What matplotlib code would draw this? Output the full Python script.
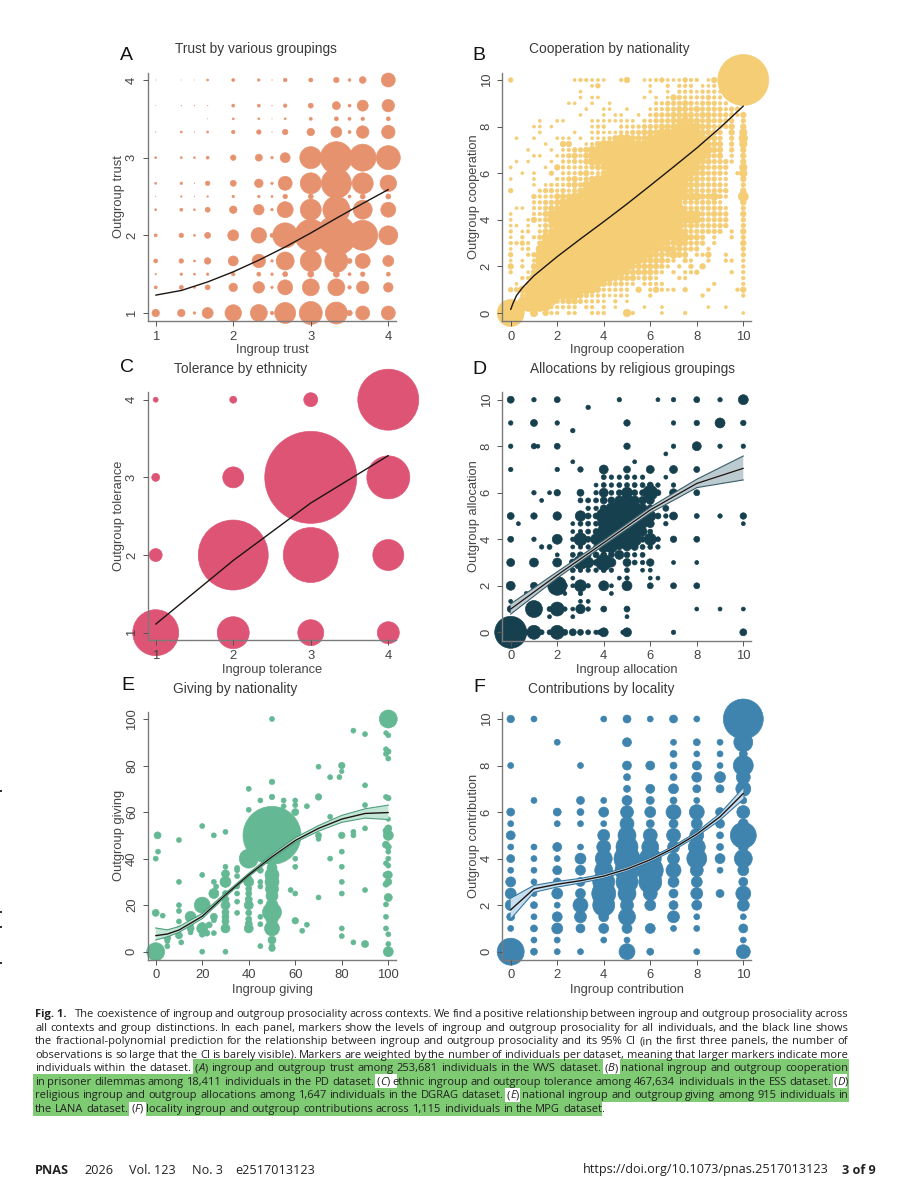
"""Six-panel ingroup/outgroup bubble figure with its caption and page footer."""

import re

import numpy as np
import matplotlib

matplotlib.use("Agg")
import matplotlib.pyplot as plt
from matplotlib.patches import Rectangle

W, H = 901, 1200

# ---------- data: marker weight is given as root-weight (marker area ~ weight**2) ----------
A_x = [1, 1.33, 1.5, 1.67, 2, 2.33, 2.5, 2.67, 3, 3.33, 3.5, 3.67, 4]
A_y = [4, 3.67, 3.5, 3.33, 3, 2.67, 2.5, 2.33, 2, 1.67, 1.5, 1.33, 1]
A_weight = [
    [0.4, 0.3, 0.3, 2, 3, 2.5, 0.5, 3.7, 4, 5.5, 2.7, 6.7, 14],
    [0.3, 0.5, 0.5, 0.5, 3, 3, 0.5, 3.5, 5, 8, 3, 11, 12.5],
    [0, 0, 0, 0.4, 2, 2, 0.4, 2, 3, 4, 3, 3.5, 4],
    [0.5, 2, 0.5, 2, 3.5, 4.5, 0.5, 5.5, 7.5, 11, 3, 12.5, 13.5],
    [2, 2, 1.8, 3, 5.5, 7, 2.5, 10, 22, 32, 5, 27, 24],
    [2, 2.5, 0.5, 4.5, 6, 8.5, 2.5, 14, 21, 30, 4, 21, 16.5],
    [0.5, 1.5, 0.5, 1.5, 2.5, 2.5, 2, 4.5, 5, 6, 3, 5, 5],
    [2, 3, 1.8, 5, 7.5, 10.5, 2.5, 16, 21, 27, 3, 19, 15],
    [3, 4.5, 2, 6, 11, 15.5, 4, 25, 32, 40, 6, 30, 19],
    [4, 4.5, 2, 6.5, 10, 13.5, 2.5, 18, 21, 23, 5, 15, 11],
    [1.5, 2.5, 2, 2.5, 3.5, 4, 2.5, 5, 6, 6, 3, 4.5, 4],
    [3, 4, 2, 5, 8.5, 11.5, 2.5, 15, 17, 17, 3.5, 12.5, 9.5],
    [7.5, 7.5, 2.5, 11, 16.5, 17, 3.5, 21, 23, 22, 5.5, 14, 14],
]
A_line_x = [1, 1.33, 1.67, 2, 2.33, 2.67, 3, 3.33, 3.67, 4]
A_line_y = [1.23, 1.29, 1.40, 1.53, 1.68, 1.85, 2.03, 2.22, 2.41, 2.59]

# rows run from outgroup 10 down to 0, columns from ingroup 0 to 10, in quarter steps
B_step = 0.25
B_levels = [0, 2.6, 3, 3.6, 4.6, 5.6, 7.5, 8.6, 10, 13]
B_rows = [
    "4..........233222..35" + "..2234222433.25244..",
    "..............24....." + "...2..3.333.223.....",
    "............2........" + "...2..2.33323332....",
    "............2.22....." + "..2.2.2543333433....",
    "..........22..2..2..." + "....3344454344433...",
    ".............2..22..2" + "...2334455454444344.",
    "............2...2.22." + ".2.34445555455444435",
    ".....2..22....2222222" + "2.3344455655454444.4",
    "....22.2......233..33" + "334445556666554445.5",
    ".....2.....2..2322233" + "4455566677665554.5.6",
    ".2..2...222.2.2223566" + "5556667777666554.4.7",
    "......2..55..23566666" + "6666777777766555.4.6",
    "...2...2.234456666666" + "6677777777777655.4.5",
    "....22..2345356666666" + "7777777777777545.3.5",
    ".2.2...2.334356667777" + "77777777777655444" + "3.5",
    "2.....2.5333334556777" + "7777777777665444" + "4..6",
    "..2.2..4.333453357777" + "777777777" + "6655444" + "3.36",
    "2...2...3345345677777" + "777777777" + "65544433" + "..5",
    "....2.233345467777777" + "777777777" + "65544443" + "..4",
    "4....3443434567777777" + "777777777" + "55444444" + "..5",
    "....43335556777777777" + "777777777" + "666" + "5564" + "3" + "..8",
    "....33445667777777777" + "77777777" + "54444443" + "...5",
    ".22.33455677777777777" + "777777777" + "4444444" + "3" + "..4",
    "2...33567777777777777" + "777777777" + "666" + "44544" + "..5",
    "2..253467777777777777" + "7777777" + "66666" + "44444" + "..4",
    "22.2.2457777777777777" + "7777777" + "6" + "6" + "45444444" + "..4",
    "3.23.3557777777777777" + "777777" + "666" + "5444444" + ".3.5",
    "2.3.34677777777777777" + "777777666655" + "4.3..3.4",
    "3343.4777777777777777" + "77777" + "6556544" + "4.3....5",
    "2.23.6777777777777777" + "777" + "56565544" + "4.3.....4",
    "4..347777777777777777" + "7776554655.335..3..4",
    "2.2.37777777777777777" + "76555543.43..3..33.3",
    "5.3.57777777777777777" + "5555543.3.4.5......3",
    "3..257777777777777765" + "555543.3.334.....3.3",
    "..3377777777777776555" + "53443...33.........3",
    ".2.477777777777654443" + "3.3333........3....3",
    "446677777777776533333" + ".5.35323.4...3....35",
    "..3677777776543332232" + "...3........3......3",
    "..7777774455433" + "32.3.2" + "....................",
    "777777733333.33.3.2.." + "..2..2.......2..2...",
    "....6.533.33..333...6" + "3....2...3.........2",
]
B_big_x = [10, 0]
B_big_y = [10, 0]
B_big_weight = [51, 27]
B_line_x = [0, 0.1, 0.25, 0.5, 1, 2, 3, 4, 5, 6, 7, 8, 9, 10]
B_line_y = [0.15, 0.42, 0.75, 1.08, 1.6, 2.42, 3.18, 3.92, 4.68, 5.47, 6.27, 7.08, 7.95, 8.88]

C_x = [1, 2, 3, 4]
C_y = [4, 3, 2, 1]
C_weight = [
    [5, 7, 14, 61],
    [8, 21, 92, 43],
    [13, 70, 55, 31],
    [46, 32, 26, 22],
]
C_line_x = [1, 2, 3, 4]
C_line_y = [1.11, 1.93, 2.67, 3.28]

# one entry per outgroup level: (outgroup, ingroup values, weights)
D_rows = [
    (10, [0, 1, 2, 4.67, 6.33, 7, 8, 9, 10], [7, 4.5, 6, 4.5, 4, 4.5, 6, 4.5, 10]),
    (9.67, [3.33], [4.5]),
    (9, [0, 1, 2, 5, 7, 8, 9, 10], [4.5, 7, 4.5, 6.5, 4.5, 5.5, 10, 5.5]),
    (8.67, [2.67], [4.5]),
    (8, [0, 1, 1.17, 2, 5, 7, 8, 9, 10], [4.5, 5.5, 4, 6, 6.5, 4.5, 9, 4.5, 4.5]),
    (7.67, [6.67], [4]),
    (7.33, [2.67, 5.33], [4, 4]),
    (7, [0, 2, 3, 4, 5, 6, 7, 8], [4.5, 4.5, 5.5, 9, 7, 8, 8, 6]),
    (6.67, [4, 4.33, 4.67, 5, 5.33, 5.67, 6.67], [5, 4.5, 4.5, 5, 4.5, 4.5, 4]),
    (6.33, [3.67, 4, 4.33, 4.67, 5, 5.33, 5.67, 6, 6.33, 7], [4, 5, 4.5, 5, 5, 5, 5, 6, 4.5, 4.5]),
    (6, [1, 1.67, 2, 3, 3.67, 4, 4.33, 4.67, 5, 5.33, 5.67, 6, 6.33, 7, 8],
     [4.5, 4, 6.5, 7, 4.5, 9, 5, 6, 11, 6, 6, 15, 6, 8, 6]),
    (5.67, [1.33, 3, 3.33, 3.67, 4, 4.33, 4.67, 5, 5.33, 5.67, 6], [4, 5, 5, 5, 7, 7, 9, 12, 9, 8, 8]),
    (5.33, [3.33, 3.67, 4, 4.33, 4.67, 5, 5.33, 5.67, 6, 6.67], [4.5, 4.5, 7, 11, 15, 18, 13, 9, 7, 6]),
    (5, [0, 1, 2, 3, 3.33, 3.67, 4, 4.33, 4.67, 5, 5.33, 5.67, 6, 6.33, 6.67, 7, 8, 9, 10],
     [7, 6.5, 8.5, 10.5, 6, 6, 15, 18, 25, 33, 22, 14, 11, 6, 4.5, 8, 5, 4.5, 6.5]),
    (4.67, [0.33, 2.67, 3, 3.33, 3.67, 4, 4.33, 4.67, 5, 5.33, 5.67, 6, 6.67, 10],
     [4, 4, 5, 5, 5, 11, 14, 14, 14, 12, 10, 8, 4.5, 4]),
    (4.33, [2.67, 3, 3.33, 3.67, 4, 4.33, 4.67, 5, 5.33, 5.67, 6], [4, 4.5, 5, 6, 13, 13, 13, 12, 11, 9, 5]),
    (4, [0, 1, 2, 2.67, 3, 3.33, 3.67, 4, 4.33, 4.67, 5, 5.33, 5.67, 6, 6.33, 7, 8],
     [6, 4.5, 10, 4.5, 13, 6, 11, 20, 18, 14, 20, 14, 6, 12, 5, 6.5, 6]),
    (3.67, [1.33, 1.67, 2.67, 3, 3.33, 3.67, 4, 4.33, 4.67, 5, 5.33, 5.67, 6, 6.33],
     [4.5, 5, 4, 4.5, 4.5, 5, 11, 12, 6, 8, 7, 5, 5, 4.5]),
    (3.33, [2, 2.67, 3, 3.33, 3.67, 4, 4.33, 4.67, 5, 5.33, 5.67], [4, 5, 6, 6, 6, 6, 6, 9, 6, 4.5, 5]),
    (3, [0, 1, 2, 2.67, 3, 3.33, 3.67, 4, 4.33, 5, 5.33, 5.67, 6, 7, 8],
     [8, 9, 9, 7, 14, 11, 6, 16, 9, 8, 5, 4.5, 7.5, 4, 4]),
    (2.67, [2.67, 3, 3.33, 3.67, 4, 4.33, 5, 5.67, 6], [5, 4.5, 4.5, 4.5, 5, 4.5, 5, 4, 4]),
    (2.33, [2.67, 4.67, 5, 6, 6.33], [4, 4, 4.5, 4, 4]),
    (2, [0, 1, 2, 2.33, 2.67, 3, 3.33, 4, 4.33, 5, 6, 7, 8], [9, 7, 19, 5, 4, 12, 4.5, 10, 4, 10, 6, 6, 6]),
    (1.67, [0.67, 2.33, 3, 4.33], [4, 4, 4.5, 4]),
    (1.33, [0, 3, 3.33], [4, 4, 4]),
    (1, [0, 1, 1.67, 2, 2.33, 2.67, 3, 3.33, 4, 5, 8, 9, 10],
     [7, 17, 5, 14, 4.5, 4, 9.5, 4.5, 6, 6, 4, 4, 4]),
    (0.67, [1.67, 2.67, 5], [4, 4, 4]),
    (0, [0, 0.67, 1, 1.33, 1.67, 2, 2.33, 2.67, 3, 3.33, 3.67, 3.83, 4, 4.83, 5, 7, 10],
     [32, 5, 14, 5, 5, 14, 6, 7, 6, 5, 4.5, 5, 9, 4.5, 9, 4.5, 7]),
]
D_line_x = [0, 2, 4, 6, 8, 10]
D_line_y = [1.0, 2.46, 3.85, 5.26, 6.4, 7.05]
D_band_lo = [0.78, 2.33, 3.74, 5.13, 6.22, 6.55]
D_band_hi = [1.22, 2.6, 3.96, 5.38, 6.58, 7.58]

E_points = [
    (100, 100, 18), (50, 100, 5), (85, 95, 5), (90, 93.5, 5), (99, 94, 4.5), (100, 93, 5), (99, 87, 5),
    (100, 86, 5.5), (99, 85, 5), (100, 83, 5), (70, 79.5, 5), (80, 80, 6.5), (80, 77.5, 4.5), (79, 75, 5),
    (75, 75, 5), (50, 73, 5.5), (90, 71.5, 5), (40, 70, 5), (50, 66.5, 5.5), (70, 66.5, 6.5), (99, 66.5, 5),
    (100, 66, 5.5), (45, 65, 5), (55, 65, 5), (60, 65, 5), (55, 62.5, 5), (60, 63, 5), (65, 62.5, 5),
    (90, 63, 5), (40, 61, 5), (60, 60, 7), (75, 58, 5), (100, 57, 4.5), (20, 54, 5), (90, 53, 5),
    (100, 53, 7), (85, 51.5, 5), (30, 51.5, 5), (0.8, 50, 7), (25, 50, 5), (50, 50, 58), (80, 50, 6.5),
    (70, 50, 6), (85, 50, 5), (100, 50, 10), (99, 52, 6), (70, 48.5, 5), (10, 48, 5), (99, 46, 7),
    (100, 45, 6), (100, 43, 5), (1, 43, 5), (80, 43, 5), (0, 40, 5), (40, 40, 19), (60, 40, 5), (75, 40, 5),
    (100, 40, 5), (99, 38, 5), (100, 37, 5), (60, 36.5, 5), (80, 36.5, 5), (30, 36.5, 5), (35, 36, 5),
    (35, 35, 5), (45, 35, 6), (50, 36, 10), (30, 33.5, 8), (20, 33, 5), (35, 32.5, 5), (100, 33, 8),
    (99, 33, 6), (40, 32, 5), (50, 33, 14), (10, 30, 5), (25, 30, 5), (30, 30, 11), (26, 28, 5), (35, 28, 5),
    (40, 30, 10), (45, 30, 5), (50, 30, 14), (100, 30, 7), (99, 29, 6), (45, 28, 5), (50, 27, 13),
    (58, 26.5, 5), (60, 25, 5), (80, 30, 5), (80, 25, 5), (90, 26.5, 5), (35, 25, 5), (25, 25, 10), (30, 25, 6),
    (40, 27, 6), (40, 25, 6), (50, 24, 12), (30, 22.5, 7), (40, 22.5, 7), (70, 23.3, 5), (100, 23.3, 8),
    (35, 21.5, 5), (45, 21.5, 5), (30, 20, 9), (40, 20, 9), (20, 20, 16), (10, 20, 5), (99, 20.3, 5),
    (50, 20, 12), (10, 17.5, 5), (0, 16.7, 7), (30, 17, 7), (35, 16.7, 5), (40, 16.7, 6), (50, 17, 19),
    (3, 15.5, 5), (15, 15, 11), (25, 15, 7), (30, 15, 7), (40, 14, 6), (45, 15, 5), (50, 14, 12), (99, 15, 5),
    (60, 13.3, 6.5), (10, 13, 5), (15, 12, 6), (25, 13.5, 5), (30, 13, 7), (20, 11, 7), (40, 12, 7),
    (45, 11.8, 5), (65, 11.6, 5), (23, 11.5, 6), (30, 10, 9), (20, 10, 11), (15, 10, 7), (10, 10, 5),
    (40, 10, 9), (50, 10, 15), (80, 10, 5), (99, 10, 5), (63, 9, 5), (15, 8.3, 5), (25, 8, 5), (22, 8, 6),
    (20, 7.5, 6), (10, 7, 7), (5, 6, 7), (100, 7.5, 5), (80, 6.7, 5), (50, 5, 8), (5, 4.5, 5), (11, 4, 5),
    (85, 4, 5), (90, 3.3, 7), (100, 3.3, 5), (45, 2.4, 5), (5, 2.3, 5), (50, 1.5, 6.5), (100, 0, 10),
    (0, 0, 18), (20, 0, 5), (30, 0, 5), (50, 2.5, 5),
]
E_line_x = [0, 5, 10, 20, 30, 40, 50, 60, 70, 80, 90, 100]
E_line_y = [6.9, 7.6, 9.3, 15.2, 24.4, 33, 40.8, 47.8, 53, 57, 59.4, 59.8]
E_band_lo = [5, 6.4, 8.3, 14.2, 23.6, 32.3, 40, 47, 51.8, 55.6, 57.4, 56.8]
E_band_hi = [10.2, 9.4, 10.8, 16.4, 25.2, 33.7, 41.8, 49, 54.2, 58.6, 61.4, 63]

# one entry per ingroup level: (ingroup, outgroup values, weights)
F_cols = [
    (0, [10, 8, 6, 5.5, 5, 4.5, 4, 3.5, 3, 2.5, 2, 1.5, 1, 0], [7.5, 6, 8, 6, 9, 6, 8, 6, 10, 11, 11, 8, 6, 27]),
    (1, [10, 6.5, 4.5, 4, 3.5, 3, 2.5, 2, 1.5, 1, 0.5, 0], [6, 6, 6, 6, 6, 6, 6, 7, 6, 7, 6, 7]),
    (2, [9, 6, 5.5, 4.5, 4, 3.5, 3, 2.5, 2, 1.5, 1, 0.5, 0], [6, 8, 6, 9, 6, 9, 8, 11, 6, 10, 11, 6, 6]),
    (3, [8, 6.5, 6, 5.5, 4.5, 4, 3.5, 3, 2.5, 2, 1.5, 1, 0], [6, 8, 7, 6, 6, 11, 10, 9, 10, 15, 12, 9, 6]),
    (4, [10, 6.5, 6, 5.5, 5, 4.5, 4, 3.5, 3, 2.5, 2, 1.5, 1, 0.5],
     [6, 6, 10, 6, 12, 14, 17, 18, 22, 24, 22, 10, 10, 6]),
    (5, [10, 9, 8, 7.5, 7, 6.5, 6, 5.5, 5, 4.5, 4, 3.5, 3, 2.5, 2, 1.5, 1, 0.5, 0],
     [8, 9, 9, 7, 7, 10, 13, 14, 18, 22, 26, 24, 22, 18, 13, 17, 10, 6, 16]),
    (6, [10, 8, 7, 6.5, 6, 5.5, 5, 4.5, 4, 3.5, 3, 2.5, 2, 1, 0],
     [6, 9, 9, 8, 11, 8, 14, 17, 22, 26, 23, 14, 11, 10, 7]),
    (7, [10, 9, 8.5, 8, 7.5, 7, 6.5, 6, 5.5, 5, 4.5, 4, 3.5, 3, 2.5, 2, 1.5, 1],
     [8, 6, 7, 7, 7, 10, 7, 15, 9, 14, 12, 12, 15, 11, 9, 9, 12, 6]),
    (8, [10, 9, 8.5, 8, 7.5, 7, 6.5, 6, 5.5, 5, 4.5, 4, 3.5, 3, 2.5, 2, 1.5, 1, 0],
     [6, 7, 6, 9, 10, 8, 6, 15, 11, 14, 17, 20, 13, 11, 12, 10, 6, 6, 6]),
    (9, [9, 8.5, 8, 7.5, 7, 6, 5.5, 5, 4.5, 4, 3.5, 2.5], [6, 6, 6, 11, 8, 9, 9, 7, 7, 10, 6, 8]),
    (10, [10, 9, 8.5, 8, 7.5, 7, 6.5, 6, 5.5, 5, 4.5, 4, 3.5, 3, 2.5, 2, 1.5, 1, 0.5, 0],
     [40, 19, 8, 20, 14, 15, 7, 13, 10, 26, 10, 18, 11, 9, 15, 12, 6, 9, 6, 14]),
]
F_line_x = [0, 1, 2, 3, 4, 5, 6, 7, 8, 9, 10]
F_line_y = [1.8, 2.7, 2.9, 3.05, 3.25, 3.55, 3.95, 4.45, 5.05, 5.8, 6.8]
F_band_lo = [1.4, 2.55, 2.78, 2.95, 3.16, 3.46, 3.86, 4.36, 4.95, 5.66, 6.55]
F_band_hi = [2.3, 2.85, 3.02, 3.15, 3.34, 3.64, 4.04, 4.54, 5.15, 5.94, 7.05]

CAPTION_LINES = [
    "The coexistence of ingroup and outgroup prosociality across contexts. We find a positive relationship between ingroup and outgroup prosociality across",
    "all contexts and group distinctions. In each panel, markers show the levels of ingroup and outgroup prosociality for all individuals, and the black line shows",
    "the fractional-polynomial prediction for the relationship between ingroup and outgroup prosociality and its 95% CI (in the first three panels, the number of",
    "observations is so large that the CI is barely visible). Markers are weighted by the number of individuals per dataset, meaning that larger markers indicate more",
    "individuals within the dataset. (A) ingroup and outgroup trust among 253,681 individuals in the WVS dataset. (B) national ingroup and outgroup cooperation",
    "in prisoner dilemmas among 18,411 individuals in the PD dataset. (C) ethnic ingroup and outgroup tolerance among 467,634 individuals in the ESS dataset. (D)",
    "religious ingroup and outgroup allocations among 1,647 individuals in the DGRAG dataset. (E) national ingroup and outgroup giving among 915 individuals in",
    "the LANA dataset. (F) locality ingroup and outgroup contributions across 1,115 individuals in the MPG dataset.",
]


# ---------- helpers ----------
def panel(left, right, top, bottom, xcal, ycal, ticks):
    """xcal/ycal: ((value, pixel), (value, pixel)) calibration of each axis."""
    ax = fig.add_axes([left / W, 1 - bottom / H, (right - left) / W, (bottom - top) / H])
    ax.patch.set_alpha(0)
    (v0, p0), (v1, p1) = xcal
    k = (v1 - v0) / (p1 - p0)
    ax.set_xlim(v0 + (left - p0) * k, v0 + (right - p0) * k)
    (v0, p0), (v1, p1) = ycal
    k = (v1 - v0) / (p1 - p0)
    ax.set_ylim(v0 + (bottom - p0) * k, v0 + (top - p0) * k)
    ax.set_xticks(ticks)
    ax.set_yticks(ticks)
    ax.set_axisbelow(False)
    for side in ("top", "right"):
        ax.spines[side].set_visible(False)
    for side in ("left", "bottom"):
        ax.spines[side].set_color("#7b7b7b")
        ax.spines[side].set_linewidth(1.0)
    ax.tick_params(axis="both", length=3.4, width=0.7, color="#555555", labelcolor="#444444",
                   labelsize=9.4, pad=3.6)
    for lab in ax.get_yticklabels():
        lab.set_rotation(90)
        lab.set_va("center")
    return ax


def bubbles(ax, xs, ys, ws, color):
    ws = np.asarray(ws, float)
    keep = ws > 0
    ax.scatter(np.asarray(xs, float)[keep], np.asarray(ys, float)[keep], s=(ws[keep] * 0.72) ** 2,
               color=color, edgecolors=color, linewidths=0.45, clip_on=False, zorder=1)


def curve(ax, xs, ys, lw=1.0):
    ax.plot(xs, ys, color="#1d1512", lw=lw, solid_capstyle="round", clip_on=False, zorder=3)


def band(ax, xs, lo, hi, fill, edge):
    ax.fill_between(xs, lo, hi, facecolor=fill, edgecolor="none", zorder=2, clip_on=False)
    ax.plot(xs, lo, color=edge, lw=0.8, zorder=2.2, clip_on=False)
    ax.plot(xs, hi, color=edge, lw=0.8, zorder=2.2, clip_on=False)


def measure(s, **kw):
    t = page.text(0, 0, s, **kw)
    w = t.get_window_extent(renderer).width
    t.remove()
    return w


def caption_line(line, y, x0, x1=None):
    """Lay the words of one line out between x0 and x1 (left aligned when x1 is None)."""
    kw = dict(family="Open Sans", fontsize=CAP_SIZE)
    words = []
    for word in line.split(" "):
        m = re.fullmatch(r"\(([A-F])\)", word)
        if m:
            pieces = [("(", "normal"), (m.group(1), "italic"), (")", "normal")]
        else:
            pieces = [(word, "normal")]
        widths = [measure(s, fontstyle=st, **kw) for s, st in pieces]
        words.append((pieces, widths))
    total = sum(sum(ws) for _, ws in words)
    gap = measure("a a", **kw) - 2 * measure("a", **kw)
    if x1 is not None:
        gap = (x1 - x0 - total) / (len(words) - 1)
    x = x0
    for pieces, widths in words:
        for (s, st), wd in zip(pieces, widths):
            page.text(x, y + 3.3, s, fontstyle=st, color="#222222", ha="left", va="baseline", **kw)
            x += wd
        x += gap


# ---------- figure ----------
plt.rcParams["font.family"] = ["Liberation Sans", "DejaVu Sans"]
fig = plt.figure(figsize=(W / 100, H / 100), dpi=100, facecolor="white")
renderer = fig.canvas.get_renderer()

page = fig.add_axes([0, 0, 1, 1], zorder=0)
page.set_xlim(0, W)
page.set_ylim(H, 0)
page.axis("off")

# panel A
ax = panel(147.7, 396, 72.7, 321, ((1, 155.7), (4, 388.3)), ((1, 313), (4, 80)), [1, 2, 3, 4])
gx, gy = np.meshgrid(A_x, A_y)
bubbles(ax, gx.ravel(), gy.ravel(), np.array(A_weight).ravel(), "#E7926F")
curve(ax, A_line_x, A_line_y)

# panel B
ax = panel(502.3, 751.3, 72.7, 321, ((0, 510.7), (10, 743.3)), ((0, 313), (10, 80)), [0, 2, 4, 6, 8, 10])
bx, by, bw = [], [], []
for r, row in enumerate(B_rows):
    for c, ch in enumerate(row):
        if ch != ".":
            bx.append(c * B_step)
            by.append(10 - r * B_step)
            bw.append(B_levels[int(ch)])
bubbles(ax, bx, by, bw, "#F4CD75")
bubbles(ax, B_big_x, B_big_y, B_big_weight, "#F4CD75")
curve(ax, B_line_x, B_line_y)

# panel C
ax = panel(147.7, 396, 392.3, 640, ((1, 155.7), (4, 388.3)), ((1, 632.7), (4, 399.7)), [1, 2, 3, 4])
gx, gy = np.meshgrid(C_x, C_y)
bubbles(ax, gx.ravel(), gy.ravel(), np.array(C_weight).ravel(), "#DD5475")
curve(ax, C_line_x, C_line_y)

# panel D
ax = panel(502.3, 751.3, 392, 640.7, ((0, 510.7), (10, 743.3)), ((0, 632.3), (10, 399.7)), [0, 2, 4, 6, 8, 10])
dx, dy, dw = [], [], []
for level, xs, ws in D_rows:
    dx += xs
    dy += [level] * len(xs)
    dw += ws
bubbles(ax, dx, dy, dw, "#17404F")
band(ax, D_line_x, D_band_lo, D_band_hi, "#BCCBD0", "#3a5c69")
curve(ax, D_line_x, D_line_y, lw=0.9)

# panel E
ax = panel(147.7, 396, 711.7, 959.7, ((0, 155.7), (100, 388.3)), ((0, 951.7), (100, 719)),
           [0, 20, 40, 60, 80, 100])
ex, ey, ew = zip(*E_points)
bubbles(ax, ex, ey, ew, "#64B893")
band(ax, E_line_x, E_band_lo, E_band_hi, "#C3E5D6", "#4f9e80")
curve(ax, E_line_x, E_line_y)

# panel F
ax = panel(502.3, 751.3, 711.7, 959.7, ((0, 510.7), (10, 743.3)), ((0, 951.7), (10, 719)), [0, 2, 4, 6, 8, 10])
fx, fy, fw = [], [], []
for level, ys, ws in F_cols:
    fx += [level] * len(ys)
    fy += ys
    fw += ws
bubbles(ax, fx, fy, fw, "#3E84AE")
band(ax, F_line_x, F_band_lo, F_band_hi, "#C6DEEE", "#3878a0")
curve(ax, F_line_x, F_line_y)

# panel letters, titles and axis labels, placed in page pixels
for s, x, y in [("A", 120, 53), ("B", 472, 53), ("C", 120, 365), ("D", 472, 368), ("E", 121, 684), ("F", 473, 685)]:
    page.text(x, y, s, fontsize=14, color="#111111", ha="left", va="center_baseline")
for s, x, y in [("Trust by various groupings", 256, 47), ("Cooperation by nationality", 609.5, 47),
                ("Tolerance by ethnicity", 241, 367), ("Allocations by religious groupings", 632, 367),
                ("Giving by nationality", 235.5, 687), ("Contributions by locality", 601, 687)]:
    page.text(x, y, s, fontsize=9.9, color="#3a3a3a", ha="center", va="center_baseline")
for s, x, y in [("Ingroup trust", 272, 349), ("Ingroup cooperation", 626.7, 349),
                ("Ingroup tolerance", 272, 668), ("Ingroup allocation", 626.7, 668),
                ("Ingroup giving", 272, 988), ("Ingroup contribution", 626.7, 988)]:
    page.text(x, y, s, fontsize=9.3, color="#444444", ha="center", va="center_baseline")
for s, x, y in [("Outgroup trust", 119, 196.7), ("Outgroup cooperation", 474, 196.7),
                ("Outgroup tolerance", 119, 516), ("Outgroup allocation", 474, 516),
                ("Outgroup giving", 119, 835.7), ("Outgroup contribution", 474, 835.7)]:
    page.text(x, y, s, fontsize=9.3, color="#444444", rotation=90, ha="center", va="center")

# caption highlight
GREEN = "#7FCB73"
for x0, x1, y0, y1 in [(193, 603, 1059, 1073.5), (620, 849, 1059, 1073.5),
                       (33, 375, 1073.5, 1087.5), (397, 833, 1073.5, 1087.5), (847, 849, 1073.5, 1087.5),
                       (33, 505, 1087.5, 1102), (520, 849, 1087.5, 1102),
                       (33, 129, 1102, 1116), (146, 602, 1102, 1116)]:
    page.add_patch(Rectangle((x0, y0), x1 - x0, y1 - y0, facecolor=GREEN, edgecolor="none", zorder=0))

# specks left on the page edge
for y in [790.7, 911.7, 926.7, 963]:
    page.add_patch(Rectangle((0, y - 1), 1.6, 2, facecolor="#333333", edgecolor="none", zorder=0))

# caption text
CAP_SIZE = 8.0
page.text(35, 1017.3, "Fig. 1.", family="Open Sans", fontsize=CAP_SIZE, fontweight="bold", color="#222222",
          ha="left", va="baseline")
caption_ys = [1014, 1027.4, 1040.8, 1054.3, 1068, 1081.6, 1095, 1108.4]
for i, (line, y) in enumerate(zip(CAPTION_LINES, caption_ys)):
    if i == 0:
        caption_line(line, y, 75, 848)
    elif i == 7:
        caption_line(line, y, 35)
    else:
        caption_line(line, y, 35, 848)

# footer
foot = dict(family="Open Sans", fontsize=9.1, color="#222222", va="baseline")
page.text(35, 1173.5, "PNAS", fontweight="bold", ha="left", **foot)
page.text(84, 1173.5, "2026", ha="left", **foot)
page.text(129, 1173.5, "Vol. 123", ha="left", **foot)
page.text(192, 1173.5, "No. 3", ha="left", **foot)
page.text(235.7, 1173.5, "e2517013123", ha="left", **foot)
page.text(829, 1173.5, "https://doi.org/10.1073/pnas.2517013123", ha="right", **foot)
page.text(876, 1173.5, "3 of 9", fontweight="bold", ha="right", **foot)

fig.savefig("out.png", dpi=100, facecolor="white")
